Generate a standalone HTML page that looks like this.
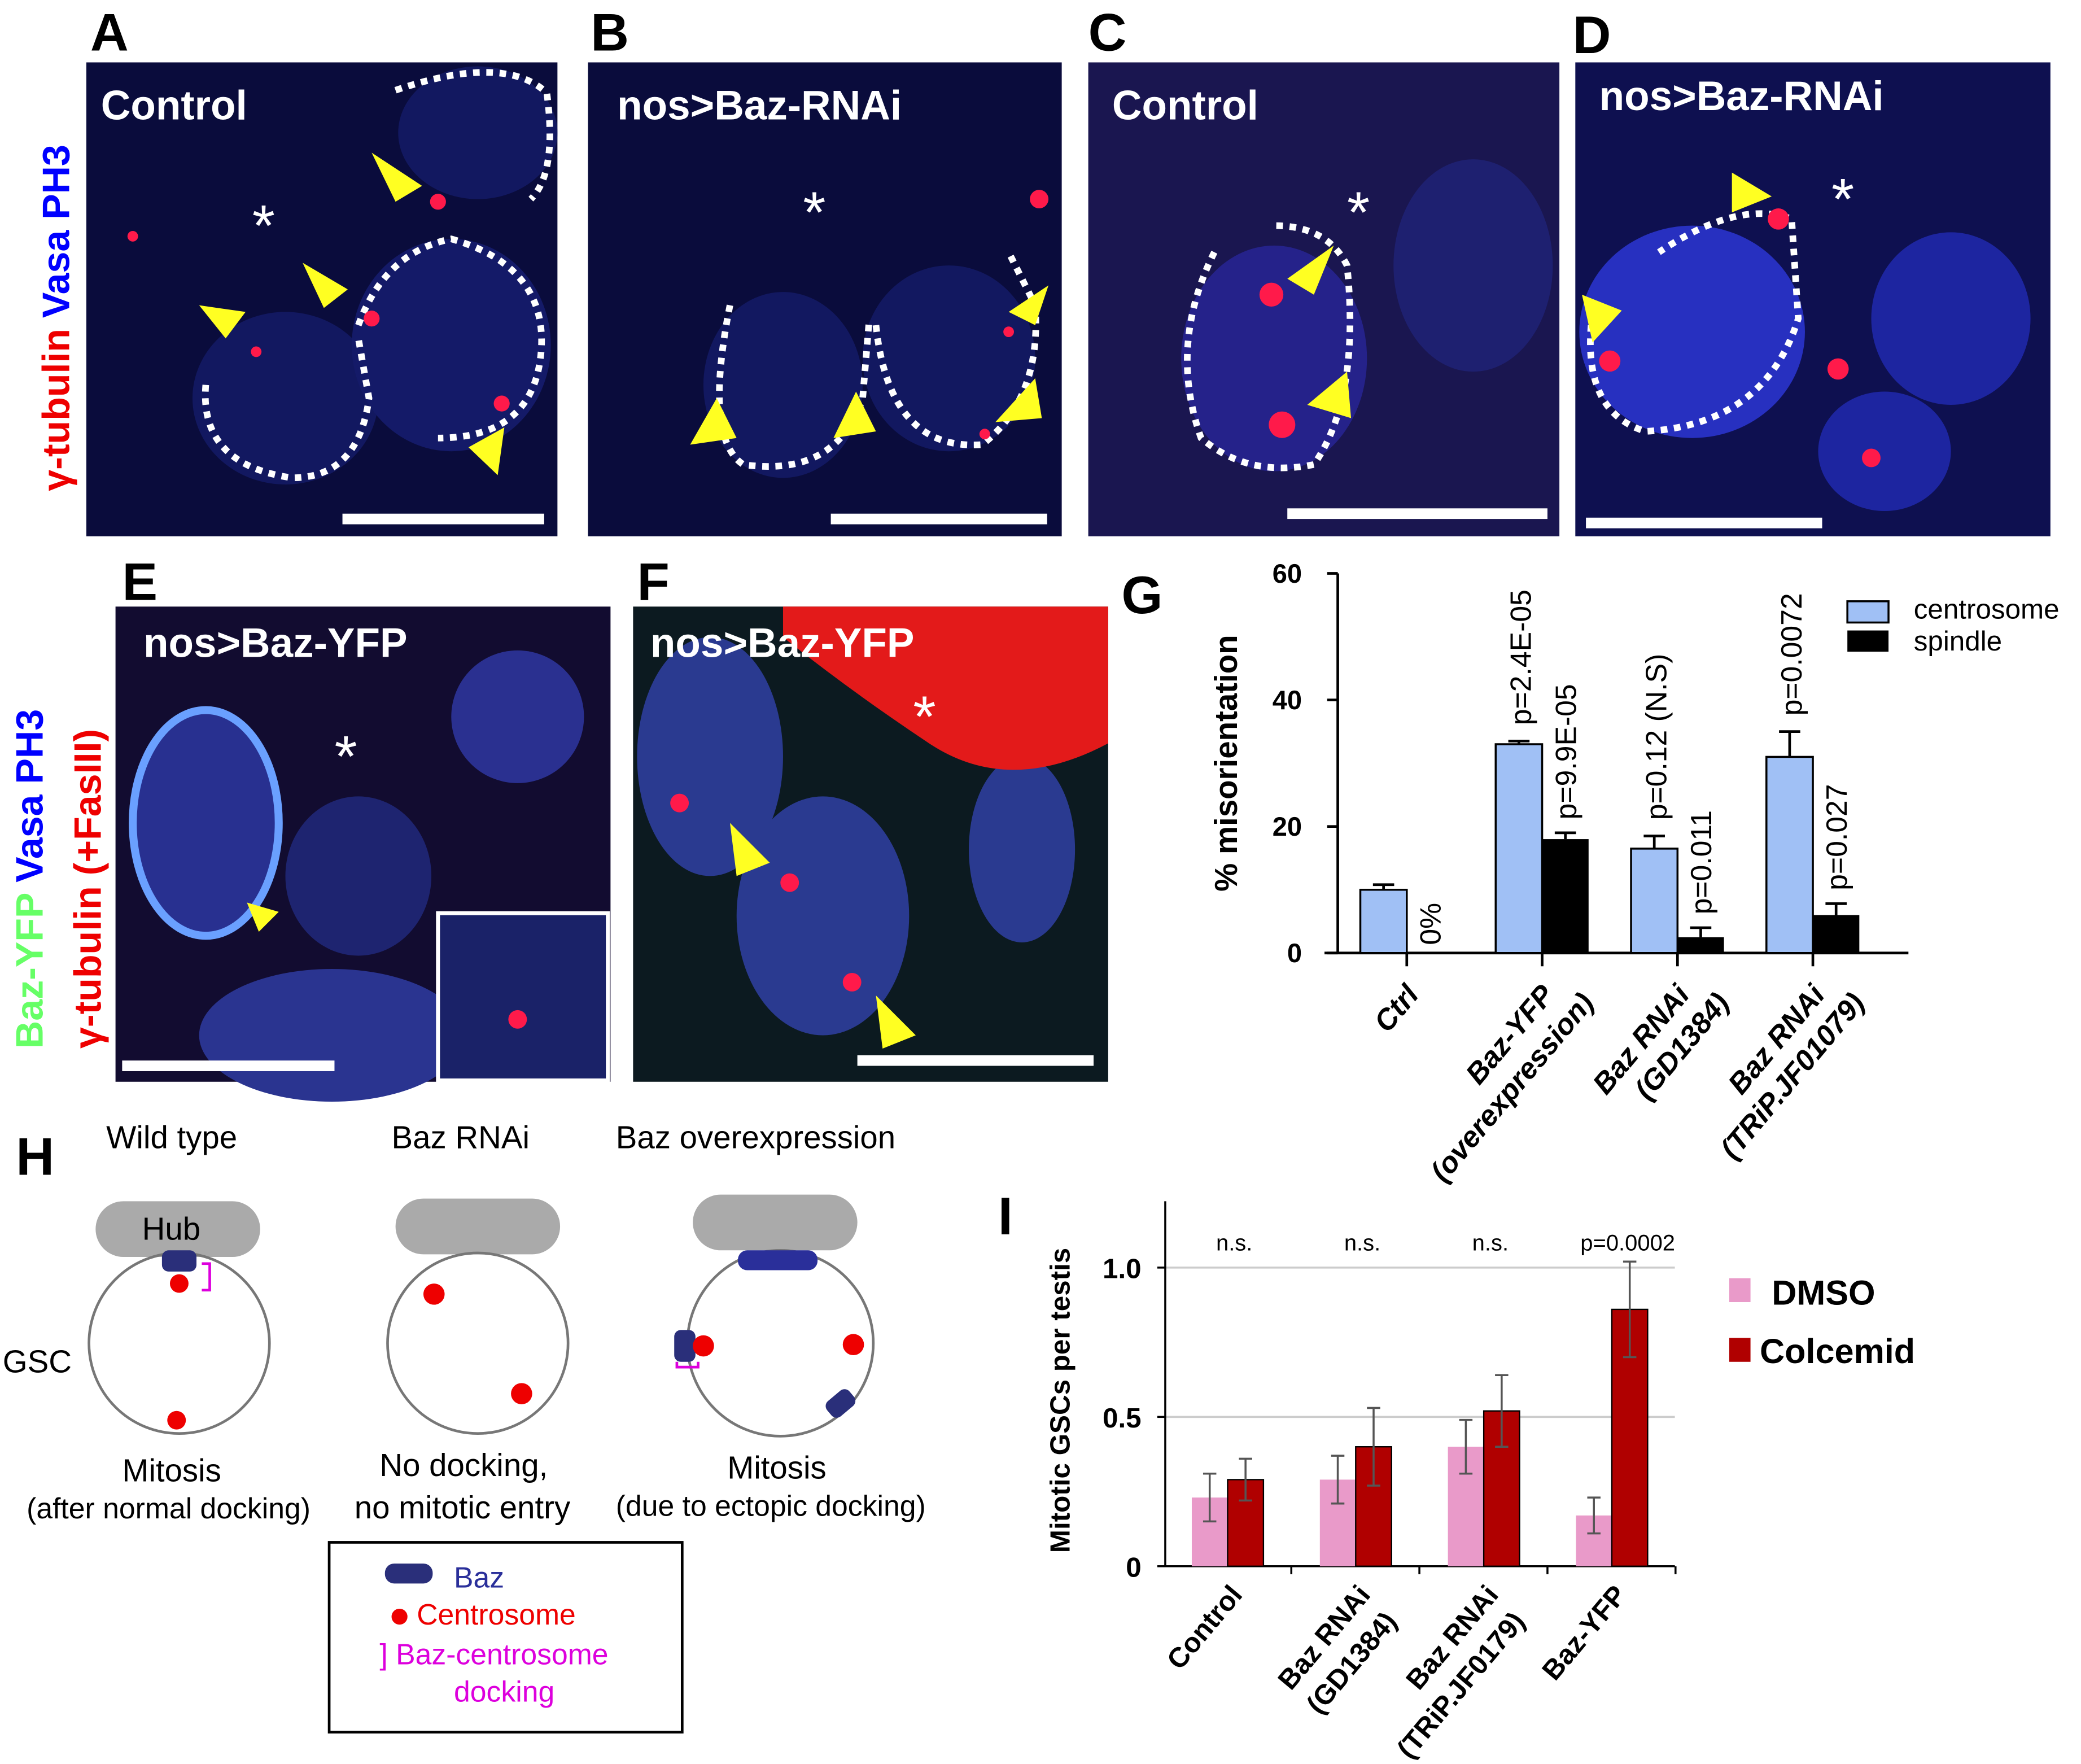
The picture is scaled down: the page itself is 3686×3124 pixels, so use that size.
<!DOCTYPE html>
<html><head><meta charset="utf-8"><style>
html,body{margin:0;padding:0;background:#fff}
svg{display:block}
text{font-family:"Liberation Sans",Arial,sans-serif}
</style></head><body>
<svg id="fig" width="3686" height="3124" viewBox="0 0 1568 1329" xmlns="http://www.w3.org/2000/svg">
<g font-weight="bold" font-size="40">
<text x="68" y="38">A</text><text x="445" y="38">B</text><text x="820" y="38">C</text><text x="1185" y="40">D</text>
<text x="92" y="452">E</text><text x="480" y="452">F</text><text x="845" y="462">G</text>
<text x="12" y="885">H</text><text x="752" y="930">I</text>
</g>
<!-- Panel A -->
<g>
<rect x="65" y="47" width="355" height="357" fill="#0a0c3c"/>
<ellipse cx="215" cy="300" rx="70" ry="65" fill="#121860"/><ellipse cx="340" cy="260" rx="75" ry="80" fill="#141a68"/><ellipse cx="360" cy="100" rx="60" ry="50" fill="#121860"/>
<path d="M155 290 Q150 350 220 360 Q270 360 278 300 L270 255 M270 245 Q290 190 340 180 Q410 200 408 260 Q405 330 330 330" fill="none" stroke="#fff" stroke-width="5" stroke-dasharray="5 5"/>
<path d="M298 68 Q380 40 412 70 Q420 130 400 150" fill="none" stroke="#fff" stroke-width="5" stroke-dasharray="5 5"/>
<text x="76" y="90" fill="#fff" font-size="31" font-weight="bold">Control</text>
<text x="190" y="185" fill="#fff" font-size="44">*</text>
<rect x="258" y="387" width="152" height="8" fill="#fff"/>
</g>
<text transform="translate(52,370) rotate(-90)" font-size="29" font-weight="bold"><tspan fill="#e00">γ-tubulin </tspan><tspan fill="#00f">Vasa PH3</tspan></text>
<!-- Panel B -->
<g>
<rect x="443" y="47" width="357" height="357" fill="#0a0c3c"/>
<ellipse cx="590" cy="290" rx="60" ry="70" fill="#121860"/><ellipse cx="715" cy="270" rx="65" ry="70" fill="#121860"/>
<path d="M550 230 Q530 330 560 350 Q630 360 650 300 L655 240 M660 245 Q670 340 740 335 Q785 300 780 230 L760 190" fill="none" stroke="#fff" stroke-width="5" stroke-dasharray="5 5"/>
<text x="465" y="90" fill="#fff" font-size="31" font-weight="bold">nos&gt;Baz-RNAi</text>
<text x="605" y="175" fill="#fff" font-size="44">*</text>
<rect x="626" y="387" width="163" height="8" fill="#fff"/>
</g>
<!-- Panel C -->
<g>
<rect x="820" y="47" width="355" height="357" fill="#1a1650"/>
<ellipse cx="960" cy="270" rx="70" ry="85" fill="#25228a"/><ellipse cx="1110" cy="200" rx="60" ry="80" fill="#1e2070"/>
<path d="M915 190 Q880 260 905 330 Q940 360 990 350 Q1025 300 1015 200 Q1000 170 960 170" fill="none" stroke="#fff" stroke-width="5" stroke-dasharray="5 5"/>
<text x="838" y="90" fill="#fff" font-size="31" font-weight="bold">Control</text>
<text x="1015" y="175" fill="#fff" font-size="44">*</text>
<rect x="970" y="383" width="196" height="8" fill="#fff"/>
</g>
<!-- Panel D -->
<g>
<rect x="1187" y="47" width="358" height="357" fill="#0e1050"/>
<ellipse cx="1275" cy="250" rx="85" ry="80" fill="#2730c0"/><ellipse cx="1470" cy="240" rx="60" ry="65" fill="#1d25a0"/><ellipse cx="1420" cy="340" rx="50" ry="45" fill="#1d25a0"/>
<path d="M1200 235 Q1190 310 1240 325 Q1330 320 1355 240 L1350 165 Q1310 150 1250 190" fill="none" stroke="#fff" stroke-width="5" stroke-dasharray="5 5"/>
<text x="1205" y="83" fill="#fff" font-size="31" font-weight="bold">nos&gt;Baz-RNAi</text>
<text x="1380" y="165" fill="#fff" font-size="44">*</text>
<rect x="1195" y="390" width="178" height="8" fill="#fff"/>
</g>
<!-- Panel E -->
<g>
<rect x="87" y="457" width="373" height="358" fill="#120c30"/>
<ellipse cx="155" cy="620" rx="55" ry="85" fill="#283090" stroke="#6aa0ff" stroke-width="6"/>
<ellipse cx="270" cy="660" rx="55" ry="60" fill="#1e2470"/><ellipse cx="390" cy="540" rx="50" ry="50" fill="#2a3090"/>
<ellipse cx="250" cy="780" rx="100" ry="50" fill="#2a3490"/>
<rect x="330" y="688" width="128" height="126" fill="#1a2268" stroke="#fff" stroke-width="3"/>
<text x="108" y="495" fill="#fff" font-size="31" font-weight="bold">nos&gt;Baz-YFP</text>
<text x="252" y="585" fill="#fff" font-size="44">*</text>
<rect x="92" y="799" width="160" height="8" fill="#fff"/>
</g>
<text transform="translate(32,790) rotate(-90)" font-size="29" font-weight="bold"><tspan fill="#6f6">Baz-YFP </tspan><tspan fill="#00f">Vasa PH3</tspan></text>
<text transform="translate(76,790) rotate(-90)" font-size="29" font-weight="bold" fill="#e00">γ-tubulin (+FasIII)</text>
<!-- Panel F -->
<g>
<rect x="477" y="457" width="358" height="358" fill="#0c1a20"/>
<ellipse cx="535" cy="570" rx="55" ry="90" fill="#2a3a90"/><ellipse cx="620" cy="690" rx="65" ry="90" fill="#2a3a90"/><ellipse cx="770" cy="640" rx="40" ry="70" fill="#2a3a90"/>
<path d="M590 457 L835 457 L835 560 Q760 600 700 560 Q640 520 590 480 Z" fill="#e31a1a"/>
<text x="490" y="495" fill="#fff" font-size="31" font-weight="bold">nos&gt;Baz-YFP</text>
<text x="688" y="555" fill="#fff" font-size="44">*</text>
<rect x="646" y="795" width="178" height="8" fill="#fff"/>
</g>
<g fill="#ff1a4a">
<circle cx="330" cy="152" r="6"/><circle cx="280" cy="240" r="6"/><circle cx="378" cy="304" r="6"/><circle cx="100" cy="178" r="4"/><circle cx="193" cy="265" r="4"/>
<circle cx="783" cy="150" r="7"/><circle cx="760" cy="250" r="4"/><circle cx="742" cy="327" r="4"/>
<circle cx="958" cy="222" r="9"/><circle cx="966" cy="320" r="10"/>
<circle cx="1340" cy="165" r="8"/><circle cx="1213" cy="272" r="8"/><circle cx="1385" cy="278" r="8"/><circle cx="1410" cy="345" r="7"/>
<circle cx="595" cy="665" r="7"/><circle cx="642" cy="740" r="7"/><circle cx="512" cy="605" r="7"/><circle cx="390" cy="768" r="7"/>
</g>
<g fill="#ffff22">
<polygon points="150,230 185,235 170,255"/><polygon points="228,198 262,218 244,232"/><polygon points="280,115 318,140 298,152"/><polygon points="353,337 380,322 375,358"/>
<polygon points="520,335 540,300 555,330"/><polygon points="628,330 645,295 660,325"/><polygon points="760,235 790,215 780,245"/><polygon points="750,318 780,285 785,315"/>
<polygon points="970,210 1005,185 990,222"/><polygon points="985,305 1015,280 1018,315"/>
<polygon points="1305,130 1335,148 1305,160"/><polygon points="1192,222 1222,234 1200,258"/>
<polygon points="186,680 210,687 195,702"/><polygon points="550,620 580,650 555,660"/><polygon points="660,750 690,780 665,790"/>
</g>
<g font-size="21">
<rect x="1392" y="453" width="31" height="16" fill="#a0c0f5" stroke="#000" stroke-width="1.5"/>
<text x="1442" y="466">centrosome</text>
<rect x="1392" y="475" width="31" height="16" fill="#000"/>
<text x="1442" y="490">spindle</text>
</g>
<g id="chartG"></g>
<g font-size="24">
<text x="80" y="865">Wild type</text><text x="295" y="865">Baz RNAi</text><text x="464" y="865">Baz overexpression</text>
<rect x="72" y="905" width="124" height="42" rx="21" fill="#aaa"/><text x="107" y="934">Hub</text>
<circle cx="135" cy="1012" r="68" fill="none" stroke="#777" stroke-width="2"/>
<rect x="122" y="942" width="26" height="16" rx="5" fill="#2a2f7a"/><circle cx="135" cy="967" r="7" fill="#e00"/><circle cx="133" cy="1070" r="7" fill="#e00"/>
<path d="M152 952 L158 952 L158 972 L152 972" fill="none" stroke="#d0d" stroke-width="2"/>
<text x="2" y="1034">GSC</text>
<text x="92" y="1116">Mitosis</text><text x="20" y="1144" font-size="22">(after normal docking)</text>
<rect x="298" y="903" width="124" height="42" rx="21" fill="#aaa"/>
<circle cx="360" cy="1012" r="68" fill="none" stroke="#777" stroke-width="2"/>
<circle cx="327" cy="975" r="8" fill="#e00"/><circle cx="393" cy="1050" r="8" fill="#e00"/>
<text x="286" y="1112">No docking,</text><text x="267" y="1144">no mitotic entry</text>
<rect x="522" y="900" width="124" height="42" rx="21" fill="#aaa"/>
<circle cx="588" cy="1012" r="70" fill="none" stroke="#777" stroke-width="2"/>
<rect x="556" y="942" width="60" height="15" rx="7" fill="#2a2f9a"/>
<rect x="508" y="1002" width="16" height="24" rx="5" fill="#2a2f7a"/><circle cx="530" cy="1014" r="8" fill="#e00"/><circle cx="643" cy="1013" r="8" fill="#e00"/>
<rect x="622" y="1050" width="22" height="15" rx="5" transform="rotate(-40 633 1057)" fill="#2a2f7a"/>
<path d="M510 1026 L510 1030 L526 1030 L526 1026" fill="none" stroke="#d0d" stroke-width="2"/>
<text x="548" y="1114">Mitosis</text><text x="464" y="1142" font-size="22">(due to ectopic docking)</text>
<rect x="248" y="1162" width="266" height="143" fill="none" stroke="#000" stroke-width="2"/>
<rect x="290" y="1178" width="36" height="15" rx="7" fill="#2a2f7a"/><text x="342" y="1196" fill="#2a2f9a" font-size="22">Baz</text>
<circle cx="301" cy="1218" r="6" fill="#e00"/><text x="314" y="1224" fill="#e00" font-size="22">Centrosome</text>
<text x="286" y="1254" fill="#d0d" font-size="22">] Baz-centrosome</text><text x="342" y="1282" fill="#d0d" font-size="22">docking</text>
</g>
<g font-size="26" font-weight="bold">
<rect x="1303" y="963" width="16" height="18" fill="#e99ac9"/><text x="1335" y="983">DMSO</text>
<rect x="1303" y="1008" width="16" height="18" fill="#b00000"/><text x="1326" y="1027">Colcemid</text>
</g>
<g id="chartI"></g>
</svg>
<script>
const gCats=["Ctrl","Baz-YFP|(overexpression)","Baz RNAi|(GD1384)","Baz RNAi|(TRiP.JF01079)"];
const gCentro=[10,33,16.5,31];
const gCentroErr=[0.8,0.5,2,4];
const gSpindle=[0,18,2.5,6];
const gSpindleErr=[0,1,1.5,1.8];
const gTicks=[0,20,40,60];
const gPCentro=["","p=2.4E-05","p=0.12 (N.S)","p=0.0072"];
const gPSpindle=["0%","p=9.9E-05","p=0.011","p=0.027"];

const iCats=["Control","Baz RNAi|(GD1384)","Baz RNAi|(TRiP.JF0179)","Baz-YFP"];
const iDmso=[0.23,0.29,0.40,0.17];
const iDmsoErr=[0.08,0.08,0.09,0.06];
const iColc=[0.29,0.40,0.52,0.86];
const iColcErr=[0.07,0.13,0.12,0.16];
const iTicks=[0,0.5,1.0];
const iTickLabels=["0","0.5","1.0"];
const iSig=["n.s.","n.s.","n.s.","p=0.0002"];

const NS="http://www.w3.org/2000/svg";
function mk(parent,tag,attrs,txt){const e=document.createElementNS(NS,tag);for(const k in attrs)e.setAttribute(k,attrs[k]);if(txt!==undefined)e.textContent=txt;parent.appendChild(e);return e;}

(function(){
const g=document.getElementById('chartG');
const x0=1008,xEnd=1438,y0=718,yTop=432,vMax=60;
const ys=v=>y0-(v/vMax)*(y0-yTop);
const groupX=i=>1060+i*102;
const bw=35;
const ya=mk(g,'line',{x1:x0,y1:yTop,x2:x0,y2:y0,stroke:'#000','stroke-width':2});

const xa=mk(g,'line',{x1:x0-10,y1:y0,x2:xEnd,y2:y0,stroke:'#000','stroke-width':2});

gTicks.forEach(t=>{
 mk(g,'line',{x1:x0-8,y1:ys(t),x2:x0,y2:ys(t),stroke:'#000','stroke-width':2});
 const tl=mk(g,'text',{x:x0-27,y:ys(t)+7,'font-size':20,'font-weight':'bold','text-anchor':'end'},String(t));
 
});
const yt=mk(g,'text',{transform:'translate(932,575) rotate(-90)','font-size':24,'font-weight':'bold','text-anchor':'middle'},'% misorientation');

gCats.forEach((c,i)=>{
 const cx=groupX(i);
 mk(g,'line',{x1:cx,y1:y0,x2:cx,y2:y0+10,stroke:'#000','stroke-width':2});
 const b1=mk(g,'rect',{x:cx-bw,y:ys(gCentro[i]),width:bw,height:y0-ys(gCentro[i]),fill:'#a0c0f5',stroke:'#000','stroke-width':1.5});
 
 const et=ys(gCentro[i]+gCentroErr[i]);
 mk(g,'path',{d:`M${cx-bw/2} ${ys(gCentro[i])}V${et}M${cx-bw/2-8} ${et}H${cx-bw/2+8}`,stroke:'#000','stroke-width':2,fill:'none'});
 if(gSpindle[i]>0){
  const b2=mk(g,'rect',{x:cx,y:ys(gSpindle[i]),width:bw,height:y0-ys(gSpindle[i]),fill:'#000'});
  
  const e2=ys(gSpindle[i]+gSpindleErr[i]);
  mk(g,'path',{d:`M${cx+bw/2} ${ys(gSpindle[i])}V${e2}M${cx+bw/2-8} ${e2}H${cx+bw/2+8}`,stroke:'#000','stroke-width':2,fill:'none'});
 }
 if(gPCentro[i]){const p=mk(g,'text',{transform:`translate(${cx-bw/2+9},${ys(gCentro[i]+gCentroErr[i])-12}) rotate(-90)`,'font-size':22},gPCentro[i]);
  }
 const sTop=gSpindle[i]>0?ys(gSpindle[i]+gSpindleErr[i])-10:y0-6;
 const p2=mk(g,'text',{transform:`translate(${cx+bw/2+8},${sTop}) rotate(-90)`,'font-size':22},gPSpindle[i]);
 
 const parts=c.split('|');
 parts.forEach((s,k)=>{const t=mk(g,'text',{transform:`translate(${cx+10+k*30},${y0+32+k*6}) rotate(-50)`,'font-size':22,'font-weight':'bold','font-style':'italic','text-anchor':'end'},s);
  });
});
})();

(function(){
const g=document.getElementById('chartI');
const x0=878,xEnd=1262,y0=1180,yOne=955;
const ys=v=>y0-v*(y0-yOne);
const bw=27;
const groupX=i=>925+i*96.5;
iTicks.forEach((t,k)=>{
 if(t>0){const gl=mk(g,'line',{x1:x0,y1:ys(t),x2:xEnd,y2:ys(t),stroke:'#ccc','stroke-width':1.5});
  }
 mk(g,'line',{x1:x0-6,y1:ys(t),x2:x0,y2:ys(t),stroke:'#000','stroke-width':1.5});
 const tl=mk(g,'text',{x:x0-18,y:ys(t)+8,'font-size':21,'font-weight':'bold','text-anchor':'end'},iTickLabels[k]);
 
});
const ya=mk(g,'line',{x1:x0,y1:905,x2:x0,y2:y0,stroke:'#000','stroke-width':1.5});

const xa=mk(g,'line',{x1:x0,y1:y0,x2:xEnd,y2:y0,stroke:'#000','stroke-width':1.5});

const yt=mk(g,'text',{transform:'translate(806,1055) rotate(-90)','font-size':21,'font-weight':'bold','text-anchor':'middle'},'Mitotic GSCs per testis');

iCats.forEach((c,i)=>{
 const cx=groupX(i);
 mk(g,'line',{x1:cx+48,y1:y0,x2:cx+48,y2:y0+6,stroke:'#000','stroke-width':1.5});
 const b1=mk(g,'rect',{x:cx-bw,y:ys(iDmso[i]),width:bw,height:y0-ys(iDmso[i]),fill:'#e99ac9'});
 
 const b2=mk(g,'rect',{x:cx,y:ys(iColc[i]),width:bw,height:y0-ys(iColc[i]),fill:'#b00000',stroke:'#000','stroke-width':1});
 
 [[cx-bw/2,iDmso[i],iDmsoErr[i]],[cx+bw/2,iColc[i],iColcErr[i]]].forEach(([x,v,e])=>{
  mk(g,'path',{d:`M${x} ${ys(v-e)}V${ys(v+e)}M${x-5} ${ys(v-e)}H${x+5}M${x-5} ${ys(v+e)}H${x+5}`,stroke:'#555','stroke-width':1.5,fill:'none'});
 });
 const s=mk(g,'text',{x:cx+(i==3?12:5),y:942,'font-size':17,'text-anchor':'middle'},iSig[i]);
 
 c.split('|').forEach((p,k)=>{const t=mk(g,'text',{transform:`translate(${cx+12+k*20},${y0+22+k*20}) rotate(-50)`,'font-size':21,'font-weight':'bold','text-anchor':'end'},p);
  });
});
})();
</script>
</body></html>
